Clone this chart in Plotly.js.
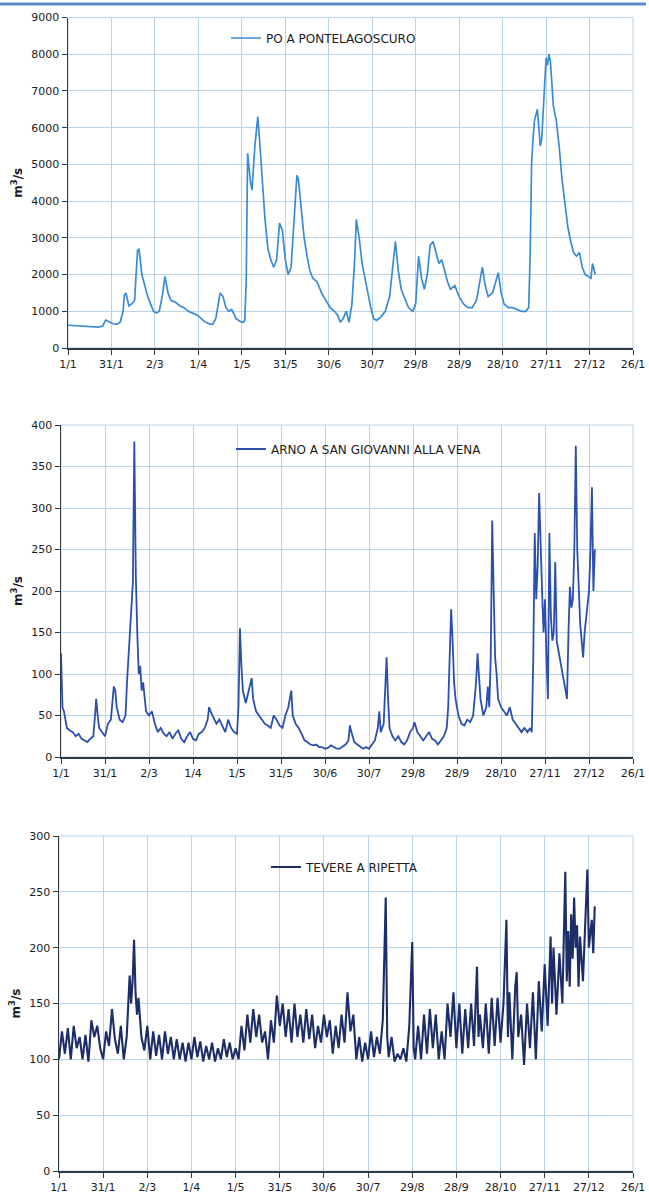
<!DOCTYPE html>
<html>
<head>
<meta charset="utf-8">
<script src="https://cdn.plot.ly/plotly-3.0.1.min.js"></script>
<style>html,body{margin:0;padding:0;background:#fff;}#chart{width:649px;height:1202px;}</style>
</head>
<body>
<div id="chart"></div>
<script>
// X axis: day of year (0 = 1/1), ticks every 30 days
const tickDays = [0,30,60,90,120,150,180,210,240,270,300,330,360,390];
const tickLabels = ["1/1","31/1","2/3","1/4","1/5","31/5","30/6","30/7","29/8","28/9","28/10","27/11","27/12","26/1"];

// PO A PONTELAGOSCURO (m3/s)
const poDay = [0,3,6,9,12,15,18,21,24,26,
28,31,34,36,38,39,40,42,44,46,
47,48,49,51,53,55,57,59,61,63,
65,67,69,71,74,77,80,83,86,89,
92,95,98,100,102,104,105,107,109,111,
113,116,119,121,122,123,124,126,127,129,
131,132,134,136,138,140,142,144,146,147,
148,150,152,154,156,158,159,161,163,165,
167,169,172,175,178,181,184,186,188,190,
192,194,196,198,199,201,203,205,207,209,
211,213,216,219,222,224,226,228,230,232,
235,238,240,242,244,246,248,250,252,254,
256,258,260,262,264,267,270,273,276,279,
282,284,286,288,290,293,295,297,299,301,
304,307,310,313,316,318,319,320,321,322,
324,325,326,327,328,329,330,331,332,333,
334,335,337,339,341,343,345,347,349,351,
353,355,357,359,361,362,363,364];
const poFlow = [620,610,600,600,580,570,570,570,600,760,
720,660,650,700,1000,1450,1500,1150,1200,1300,
2000,2650,2700,2000,1700,1400,1200,1000,950,1000,
1400,1950,1500,1300,1250,1150,1100,1000,950,900,
800,700,650,650,800,1300,1500,1400,1100,1000,
1050,800,720,700,750,1800,5300,4500,4300,5500,
6300,5800,4500,3500,2700,2400,2200,2400,3400,3300,
3200,2400,2000,2200,3500,4700,4600,3800,3000,2500,
2100,1900,1800,1500,1300,1100,1000,900,700,800,
1000,700,1200,2500,3500,3000,2300,1900,1400,1100,
800,750,850,1000,1400,2200,2900,2100,1600,1400,
1100,1000,1200,2500,1900,1600,2000,2800,2900,2600,
2300,2400,2100,1800,1600,1700,1400,1200,1100,1100,
1300,1700,2200,1700,1400,1500,1800,2050,1500,1200,
1100,1100,1050,1000,1000,1100,2500,5000,5700,6200,
6500,6000,5500,5700,6500,7000,7900,7700,8000,7800,
7200,6600,6200,5500,4600,3900,3300,2900,2600,2500,
2600,2200,2000,1950,1900,2300,2100,2000];

// ARNO A SAN GIOVANNI ALLA VENA (m3/s)
const arnoDay = [0,1,2,4,6,8,10,12,14,16,
18,20,22,23,24,25,26,28,30,32,
34,36,37,38,40,42,44,45,46,47,
48,49,50,51,52,53,54,55,56,57,
58,60,62,64,66,68,70,72,74,76,
78,80,82,84,86,88,90,92,94,96,
98,100,101,102,104,106,108,110,112,114,
116,118,120,121,122,123,124,126,128,130,
131,133,135,137,139,141,143,145,147,149,
151,153,155,157,158,160,162,164,166,168,
170,172,174,176,178,180,182,184,186,188,
190,192,194,196,197,198,200,202,204,206,
208,210,212,214,216,217,218,220,221,222,
223,224,226,228,230,232,234,236,238,240,
241,243,245,247,249,251,253,255,257,259,
261,263,264,265,266,267,268,269,271,273,
275,277,279,281,283,284,285,286,288,290,
291,292,293,294,295,296,297,298,300,302,
304,306,308,310,312,314,316,318,320,321,
322,323,324,325,326,327,328,329,330,331,
332,333,334,335,336,337,338,339,340,341,
342,343,344,345,346,347,348,349,350,351,
352,353,354,355,356,357,358,359,360,361,
362,363,364];
const arnoFlow = [125,60,55,35,32,30,25,28,22,20,
18,22,25,45,70,50,35,30,25,40,
45,85,80,60,45,42,50,90,120,140,
175,210,380,220,150,100,110,80,90,70,
55,50,55,40,30,35,28,25,30,22,
28,32,22,18,25,30,22,20,28,30,
35,45,60,55,48,40,45,38,30,45,
35,30,28,60,155,110,80,65,80,95,
70,55,50,45,40,38,35,50,45,38,
35,50,60,80,50,40,35,28,20,18,
15,14,15,12,12,10,11,14,12,10,
10,12,15,20,38,30,18,15,12,10,
12,10,15,20,35,55,30,40,80,120,
70,35,25,20,25,18,15,20,30,35,
42,30,25,20,25,30,22,20,15,20,
25,35,60,120,178,140,90,70,50,40,
38,45,42,50,90,125,100,70,50,60,
85,60,120,285,200,120,100,70,60,55,
50,60,45,40,35,30,35,30,35,30,
120,270,190,230,318,250,200,150,190,120,
70,270,170,140,150,235,140,130,120,110,
100,90,80,70,150,205,180,190,250,375,
250,200,160,140,120,150,170,180,200,250,
325,200,250];

// TEVERE A RIPETTA (m3/s)
const tevDay = [0,2,4,6,8,10,12,14,16,18,
20,22,24,26,28,30,32,34,36,38,
40,42,44,46,48,49,50,51,52,53,
54,56,58,60,62,64,66,68,70,72,
74,76,78,80,82,84,86,88,90,92,
94,96,98,100,102,104,106,108,110,112,
114,116,118,120,122,124,126,128,130,132,
134,136,138,140,142,144,146,148,150,152,
154,156,158,160,162,164,166,168,170,172,
174,176,178,180,182,184,186,188,190,192,
194,196,198,200,202,204,206,208,210,212,
214,216,218,220,222,223,224,226,228,230,
232,234,236,238,240,241,242,244,246,248,
250,252,254,256,258,260,262,264,266,268,
270,272,274,276,278,280,282,284,285,286,
288,290,292,294,296,298,300,302,304,305,
306,308,310,311,312,314,316,318,320,322,
324,326,328,330,332,334,335,336,338,340,
342,344,345,346,347,348,349,350,351,352,
353,354,356,358,359,360,362,363,364];
const tevFlow = [100,125,105,128,100,130,110,120,100,122,
98,135,120,130,110,100,125,112,145,118,
105,130,100,120,175,150,170,207,160,140,
155,120,108,130,100,125,103,122,100,125,
105,120,100,118,100,115,98,115,100,120,
102,116,98,112,100,115,98,110,100,118,
102,115,100,110,100,130,108,140,115,145,
120,140,115,125,100,135,115,157,130,150,
120,145,115,150,120,140,115,145,118,140,
110,130,115,140,120,135,105,130,110,140,
115,160,125,140,100,120,98,115,100,125,
102,120,105,135,245,120,102,120,98,105,
100,110,98,130,205,110,100,130,100,140,
105,145,110,140,100,125,100,150,120,160,
110,150,105,145,110,150,112,183,120,140,
110,150,105,155,112,155,115,150,225,120,
160,100,165,178,120,140,95,150,110,160,
100,170,125,185,130,210,150,200,140,195,
150,268,170,215,165,230,190,245,200,220,
165,210,170,230,270,200,225,195,237];

const axisFont = {family: "DejaVu Sans, Verdana, sans-serif", size: 11, color: "#1b1b1b"};
const gridCol = "#b9d3e6";
const axisCol = "#2e3a46";

function xax(domain, anchor) {
  return {domain: domain, anchor: anchor, range: [0, 390], tickmode: "array",
    tickvals: tickDays, ticktext: tickLabels, showgrid: true, gridcolor: gridCol, gridwidth: 1,
    zeroline: false, showline: true, linecolor: axisCol, linewidth: 1.5, ticks: "outside",
    ticklen: 5, tickcolor: axisCol, tickfont: axisFont, fixedrange: true};
}
function yax(domain, anchor, max, step) {
  return {domain: domain, anchor: anchor, range: [0, max], dtick: step, tick0: 0,
    showgrid: true, gridcolor: gridCol, gridwidth: 1, zeroline: false, showline: true,
    linecolor: axisCol, linewidth: 1.5, ticks: "outside", ticklen: 5, tickcolor: axisCol,
    tickfont: axisFont, fixedrange: true,
    title: {text: "m<sup>3</sup>/s", font: {family: "DejaVu Sans, Verdana, sans-serif", size: 12, color: "#1b1b1b", weight: "bold"}, standoff: 6}};
}

const legFont = {family: "DejaVu Sans, Verdana, sans-serif", size: 12, color: "#1b1b1b"};

const traces = [
  {x: poDay, y: poFlow, type: "scatter", mode: "lines", name: "PO A PONTELAGOSCURO",
   line: {color: "#3a8bd6", width: 1.7}, xaxis: "x", yaxis: "y", legend: "legend"},
  {x: arnoDay, y: arnoFlow, type: "scatter", mode: "lines", name: "ARNO A SAN GIOVANNI ALLA VENA",
   line: {color: "#2a4fae", width: 1.8}, xaxis: "x2", yaxis: "y2", legend: "legend2"},
  {x: tevDay, y: tevFlow, type: "scatter", mode: "lines", name: "TEVERE A RIPETTA",
   line: {color: "#1d2d68", width: 2.1}, xaxis: "x3", yaxis: "y3", legend: "legend3"}
];

function frame(xr, yr) {
  return {type: "rect", xref: xr + " domain", yref: yr + " domain", x0: 0, x1: 1, y0: 0, y1: 1,
    line: {color: gridCol, width: 1}, layer: "below"};
}

const layout = {
  width: 649, height: 1202, margin: {l: 0, r: 0, t: 0, b: 0},
  paper_bgcolor: "#ffffff", plot_bgcolor: "#ffffff", showlegend: true,
  xaxis: xax([68/649, 633/649], "y"),
  yaxis: yax([1-348/1202, 1-17.5/1202], "x", 9000, 1000),
  xaxis2: xax([61/649, 633/649], "y2"),
  yaxis2: yax([1-757/1202, 1-425/1202], "x2", 400, 50),
  xaxis3: xax([59/649, 633/649], "y3"),
  yaxis3: yax([1-1171/1202, 1-836/1202], "x3", 300, 50),
  legend: {x: 226/649, y: 1-38/1202, xanchor: "left", yanchor: "middle", bgcolor: "rgba(0,0,0,0)", font: legFont, itemwidth: 30},
  legend2: {x: 231/649, y: 1-449/1202, xanchor: "left", yanchor: "middle", bgcolor: "rgba(0,0,0,0)", font: legFont, itemwidth: 30},
  legend3: {x: 266/649, y: 1-867/1202, xanchor: "left", yanchor: "middle", bgcolor: "rgba(0,0,0,0)", font: legFont, itemwidth: 30},
  shapes: [
    {type: "line", xref: "paper", yref: "paper", x0: 0, x1: 646/649, y0: 1-4/1202, y1: 1-4/1202,
     line: {color: "#5b8bc8", width: 3}},
    frame("x", "y"), frame("x2", "y2"), frame("x3", "y3")
  ]
};

Plotly.newPlot("chart", traces, layout, {displayModeBar: false, staticPlot: true});
</script>
</body>
</html>
